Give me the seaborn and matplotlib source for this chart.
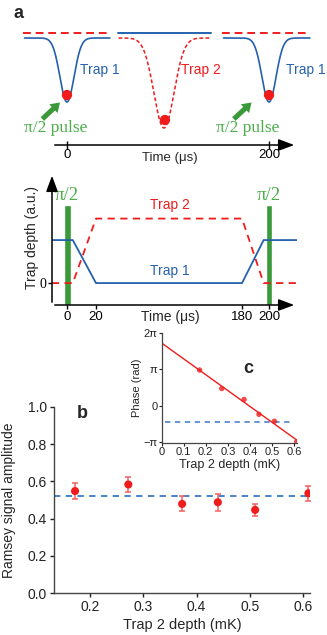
import numpy as np
import matplotlib
matplotlib.use("Agg")
import matplotlib.pyplot as plt
from matplotlib.patches import FancyArrow
import seaborn as sns

sns.set_theme(style="white", context="notebook")
plt.rcParams["font.family"] = ["Liberation Sans", "DejaVu Sans"]

BLUE = "#2561ad"
RED = "#f01c1c"
GREEN = "#3a9a3a"
GREEN_TXT = "#4caf4c"
SERIF = ["Liberation Serif", "DejaVu Serif"]

# ---- panel a, top schematic (positions in us-like units) ----
well_centers = [0, 96, 200]
well_depths = [64, 90, 64]
well_sigmas = [7, 10, 7]
well_traps = ["Trap 1", "Trap 2", "Trap 1"]
segment_starts = [-42, 51, 155]
segment_ends = [42.5, 143, 240.5]
off_level = 5.5
atom_x = [0, 97, 200]
atom_y = [-57, -82, -57]
label_x = [32.7, 132.7, 236.6]
pulse_label_x = [-10.9, 178.7]
top_ticks = [0, 200]

# ---- panel a, bottom: trap depth sequence ----
ramp_times = [-15, 4, 20, 180, 196, 228]
trap1_depth = [1, 1, 0, 0, 1, 1]
trap2_depth = [0, 0, 1.5, 1.5, 0, 0]
pulse_times = [0, 200]
seq_ticks = [0, 20, 180, 200]
knots_t = [-1000, 0, 20, 180, 200, 1000]
knots_p = [-1000, 0, 28.7, 173.3, 200, 1000]

# ---- panel b ----
depth_mk = [0.172, 0.272, 0.373, 0.44, 0.51, 0.61]
amplitude = [0.548, 0.583, 0.479, 0.488, 0.447, 0.536]
amp_err = [0.045, 0.039, 0.040, 0.045, 0.033, 0.040]
amp_mean = 0.521

# ---- panel c (inset) ----
phase_pi = [0.98, 0.47, 0.17, -0.24, -0.43, -1.0]
phase_ref_pi = -0.44

fig = plt.figure(figsize=(3.27, 6.35), dpi=100)

# ================= panel a top =================
ax_t = fig.add_axes([0, 1 - 165 / 635, 1, 165 / 635])
ax_t.set_xlim(-66.3, 257.4)
ax_t.set_ylim(-127, 38)
for c, d, s, trap, x0, x1 in zip(well_centers, well_depths, well_sigmas,
                                  well_traps, segment_starts, segment_ends):
    xs = np.linspace(x0, x1, 400)
    ys = -d * np.exp(-(xs - c) ** 2 / (2 * s ** 2))
    if trap == "Trap 1":
        ax_t.plot(xs, ys, color=BLUE, lw=1.2)
        ax_t.plot([x0 - 2, x1], [off_level, off_level], color=RED, lw=1.4,
                  dashes=(4, 2.5))
    else:
        ax_t.plot(xs, ys, color=RED, lw=1.1, dashes=(2.5, 1.5))
        ax_t.plot([x0, x1], [off_level, off_level], color=BLUE, lw=1.4)
ax_t.scatter(atom_x, atom_y, s=55, color=RED, zorder=5, edgecolor="none")
for x, trap in zip(label_x, well_traps):
    ax_t.text(x, -32, trap, color=BLUE if trap == "Trap 1" else RED,
              fontsize=10, ha="center", va="center")
for x in pulse_label_x:
    ax_t.text(x, -90, "\u03c0/2 pulse", color=GREEN_TXT, fontsize=12.5,
              family=SERIF, ha="center", va="center")
    ax_t.add_patch(FancyArrow(x - 13.5, -81, 17.5, 16.5, width=5,
                              head_width=12, head_length=9,
                              length_includes_head=True, color=GREEN,
                              lw=0))
for sp in ax_t.spines.values():
    sp.set_visible(False)
ax_t.spines["bottom"].set_position(("data", -107))
ax_t.set_xticks(top_ticks)
ax_t.set_xticklabels([str(t) for t in top_ticks], fontsize=9.5)
ax_t.tick_params(axis="x", direction="inout", length=6, width=1, pad=0,
                 bottom=True, colors="black")
ax_t.set_yticks([])
ax_t.annotate("", xy=(227.7, -107), xytext=(-14.85, -107),
              arrowprops=dict(arrowstyle="-|>,head_length=0.8,head_width=0.3",
                              color="black", lw=1.1))
ax_t.text(102, -120, "Time (\u03bcs)", fontsize=9.5, ha="center",
          va="center")
fig.text(18 / 327, 1 - 14 / 635, "a", fontsize=13, fontweight="bold",
         ha="center", va="center")

# ================= panel a bottom =================
ax_a = fig.add_axes([52 / 327, 1 - 305 / 635, 245 / 327, 132 / 635])
ax_a.set_xscale("function",
                functions=(lambda t: np.interp(t, knots_t, knots_p),
                           lambda p: np.interp(p, knots_p, knots_t)))
ax_a.set_xlim(-14.85, 227.7)
ax_a.set_ylim(-0.51, 2.56)
ax_a.bar(pulse_times, 2.32, width=5, bottom=-0.51, color=GREEN, zorder=1)
sns.lineplot(x=ramp_times, y=trap2_depth, ax=ax_a, color=RED, lw=1.3,
             sort=False, zorder=3).lines[-1].set_dashes((4, 3))
sns.lineplot(x=ramp_times, y=trap1_depth, ax=ax_a, color=BLUE, lw=1.3,
             sort=False, zorder=3)
for t in pulse_times:
    ax_a.text(t, 2.03, "\u03c0/2", color=GREEN_TXT, fontsize=13.5,
              family=SERIF, ha="center", va="center")
ax_a.text(101, 1.81, "Trap 2", color=RED, fontsize=10, ha="center",
          va="center")
ax_a.text(101, 0.28, "Trap 1", color=BLUE, fontsize=10, ha="center",
          va="center")
for sp in ax_a.spines.values():
    sp.set_visible(False)
ax_a.annotate("", xy=(1, 0), xytext=(0, 0), xycoords="axes fraction",
              arrowprops=dict(arrowstyle="-|>,head_length=0.8,head_width=0.3",
                              color="black", lw=1.1))
ax_a.annotate("", xy=(0, 1), xytext=(0, 0), xycoords="axes fraction",
              arrowprops=dict(arrowstyle="-|>,head_length=0.8,head_width=0.3",
                              color="black", lw=1.1))
ax_a.set_xticks(seq_ticks)
ax_a.set_xticklabels([str(t) for t in seq_ticks], fontsize=9.5)
ax_a.set_yticks([0])
ax_a.set_yticklabels(["0"], fontsize=10, family=SERIF)
ax_a.tick_params(axis="both", direction="out", length=3, width=1, pad=1,
                 bottom=True, left=True, colors="black")
ax_a.set_xlabel("")
ax_a.set_ylabel("Trap depth (a.u.)", fontsize=10)
ax_a.yaxis.set_label_coords(-0.055, 0.51)
ax_a.text(101, -0.8, "Time (\u03bcs)", fontsize=10, ha="center",
          va="center")

# ================= panel b =================
ax_b = fig.add_axes([54 / 327, 1 - 593.3 / 635, 256 / 327, 186.6 / 635])
ax_b.axhline(amp_mean, color="#3a78c4", lw=1.3, dashes=(3.5, 3), zorder=1)
ax_b.errorbar(depth_mk, amplitude, yerr=amp_err, fmt="none",
              ecolor="#f26060", elinewidth=1.1, capsize=2.5, capthick=1.1,
              zorder=2)
sns.scatterplot(x=depth_mk, y=amplitude, ax=ax_b, color=RED, s=34,
                edgecolor="none", zorder=3)
ax_b.set_xlim(0.1325, 0.613)
ax_b.set_ylim(0, 1.0)
ax_b.set_xticks([0.2, 0.3, 0.4, 0.5, 0.6])
ax_b.set_yticks([0, 0.2, 0.4, 0.6, 0.8, 1.0])
ax_b.set_yticklabels(["0.0", "0.2", "0.4", "0.6", "0.8", "1.0"])
ax_b.tick_params(axis="both", direction="out", length=3, width=1,
                 labelsize=10, pad=2, bottom=True, left=True, colors="#222")
for sp in ["top", "right"]:
    ax_b.spines[sp].set_visible(False)
for sp in ["left", "bottom"]:
    ax_b.spines[sp].set_color("#444")
    ax_b.spines[sp].set_linewidth(1)
ax_b.set_xlabel("Trap 2 depth (mK)", fontsize=10.5, labelpad=3)
ax_b.set_ylabel("Ramsey signal amplitude", fontsize=10)
ax_b.yaxis.set_label_coords(-0.15, 0.5)
ax_b.text(0.11, 0.965, "b", transform=ax_b.transAxes, fontsize=13,
          fontweight="bold", ha="center", va="center")

# ================= panel c (inset) =================
ax_c = fig.add_axes([161.5 / 327, 1 - 443 / 635, 135.5 / 327, 110 / 635])
ax_c.set_xlim(0, 0.612)
ax_c.set_ylim(-1.03 * np.pi, 2 * np.pi)
phase = np.array(phase_pi) * np.pi
sns.regplot(x=depth_mk, y=phase, ax=ax_c, ci=None, truncate=False,
            color=RED, scatter_kws=dict(s=15, edgecolor="none", zorder=3),
            line_kws=dict(lw=1.0))
ax_c.set_xlim(0, 0.612)
ax_c.hlines(phase_ref_pi * np.pi, 0.015, 0.585, color="#3a78c4", lw=1.1,
            linestyles=(0, (3.5, 3)))
ax_c.set_xticks([0, 0.1, 0.2, 0.3, 0.4, 0.5, 0.6])
ax_c.set_xticklabels(["0", "0.1", "0.2", "0.3", "0.4", "0.5", "0.6"])
ax_c.set_yticks([-np.pi, 0, np.pi, 2 * np.pi])
ax_c.set_yticklabels(["\u2212\u03c0", "0", "\u03c0", "2\u03c0"])
ax_c.tick_params(axis="both", direction="out", length=2, width=0.8,
                 labelsize=8, pad=1, bottom=True, left=True, colors="#222")
for sp in ["top", "right"]:
    ax_c.spines[sp].set_visible(False)
for sp in ["left", "bottom"]:
    ax_c.spines[sp].set_color("#444")
    ax_c.spines[sp].set_linewidth(0.9)
ax_c.set_xlabel("Trap 2 depth (mK)", fontsize=9, labelpad=1)
ax_c.set_ylabel("Phase (rad)", fontsize=8, labelpad=1)
ax_c.text(0.64, 0.68, "c", transform=ax_c.transAxes, fontsize=13,
          fontweight="bold", ha="center", va="center")

fig.savefig("out.png", dpi=100)
